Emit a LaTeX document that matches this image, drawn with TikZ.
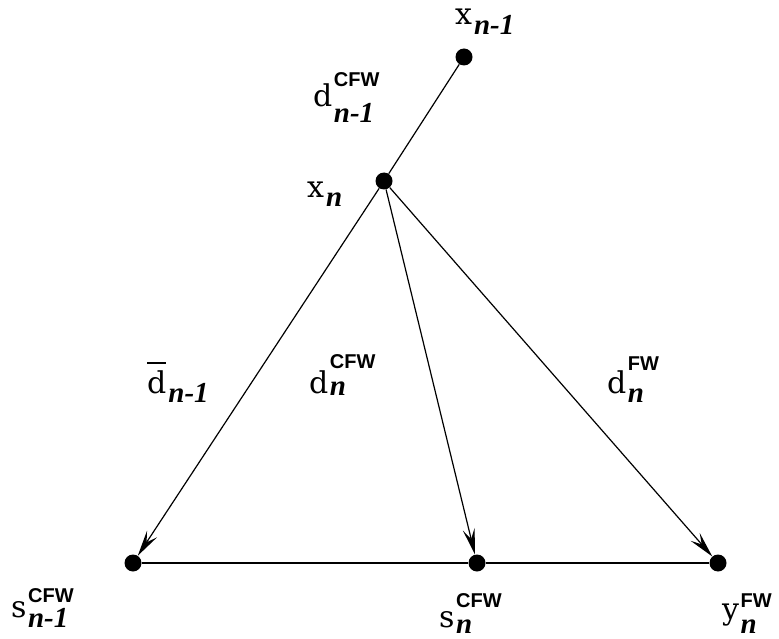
\documentclass[tikz,border=0pt]{standalone}
\usepackage{fontspec}
\newfontfamily\supfont{Liberation Sans}
\newfontfamily\basefont{DejaVu Serif}
\newfontfamily\subfont{Liberation Serif}
\usetikzlibrary{arrows.meta}
\newcommand\basefnt{\fontsize{30}{34}\selectfont\basefont}
\newcommand\subfnt{\fontsize{29}{32}\selectfont\subfont\bfseries\itshape}
\newcommand\supfnt{\fontsize{20}{24}\selectfont\supfont\bfseries}
% base, sup, sub, raise, drop
\newcommand\SupSub[5]{{\basefnt #1}\kern1.5pt\rlap{\raisebox{#4}{\supfnt #2}}\raisebox{-#5}{\subfnt #3}}
\newcommand\SubOnly[3]{{\basefnt #1}\kern2pt\raisebox{-#3}{\subfnt #2}}
\newcommand\dbar{\rlap{\raisebox{29pt}{\rule{19pt}{1.6pt}}}d}
\begin{document}
\begin{tikzpicture}[x=1pt,y=-1pt,
  dot/.style={circle,fill=black,minimum size=17pt,inner sep=0pt},
  lbl/.style={anchor=base west,inner sep=0pt},
  edge/.style={line width=1.2pt},
  arr/.style={edge,-{Stealth[length=26pt,width=12pt,inset=10pt]}}]
\useasboundingbox (0,0) rectangle (779,639);
\node[dot] (xp) at (464,57) {};
\node[dot] (xn) at (384,181) {};
\node[dot] (sp) at (133,563) {};
\node[dot] (sn) at (477,563) {};
\node[dot] (yn) at (718,563) {};
\draw[edge] (xn) -- (xp);
\draw[edge] (sp) -- (sn);
\draw[edge] (sn) -- (yn);
\draw[arr] (xn) -- (sp);
\draw[arr] (xn) -- (sn);
\draw[arr] (xn) -- (yn);
\node[lbl] (lxp) at (455,25) {\SubOnly{x}{n-1}{10pt}};
\node[lbl] (lxn) at (307,198) {\SubOnly{x}{n}{9pt}};
\node[lbl] (ldp) at (313,107) {\SupSub{d}{CFW}{n-1}{20pt}{16pt}};
\node[lbl] (ldb) at (147,393) {\SubOnly{\dbar}{n-1}{9pt}};
\node[lbl] (ldc) at (309,393) {\SupSub{d}{CFW}{n}{25pt}{2pt}};
\node[lbl] (ldf) at (607,393) {\SupSub{d}{FW}{n}{23pt}{9pt}};
\node[lbl] (lsp) at (11,617) {\SupSub{s}{CFW}{n-1}{15pt}{10pt}};
\node[lbl] (lsn) at (439,627) {\SupSub{s}{CFW}{n}{20pt}{6pt}};
\node[lbl] (lyn) at (722,619) {\SupSub{y}{FW}{n}{12pt}{14pt}};
\end{tikzpicture}
\end{document}
